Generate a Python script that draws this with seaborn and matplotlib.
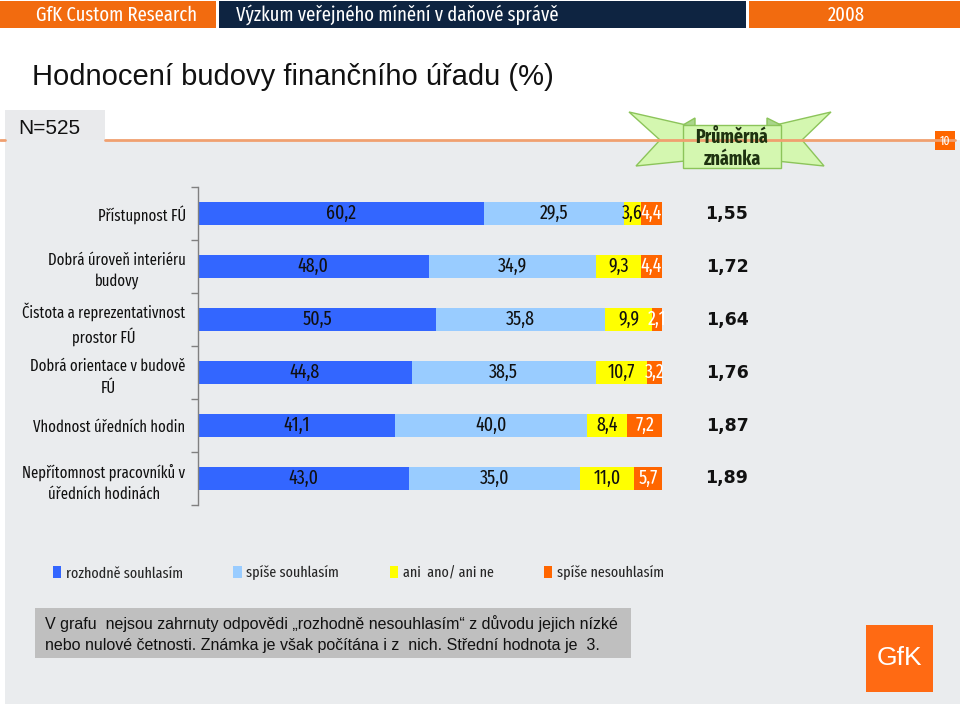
import numpy as np
import pandas as pd
import matplotlib.pyplot as plt
import seaborn as sns
from matplotlib.patches import Rectangle, Polygon, Patch

# === DATA ===
categories = ["Přístupnost FÚ",
              "Dobrá úroveň interiéru\nbudovy",
              "Čistota a reprezentativnost\nprostor FÚ",
              "Dobrá orientace v budově\nFÚ",
              "Vhodnost úředních hodin",
              "Nepřítomnost pracovníků v\núředních hodinách"]
rozhodne_souhlasim = [60.2, 48.0, 50.5, 44.8, 41.1, 43.0]
spise_souhlasim = [29.5, 34.9, 35.8, 38.5, 40.0, 35.0]
ani_ano_ani_ne = [3.6, 9.3, 9.9, 10.7, 8.4, 11.0]
spise_nesouhlasim = [4.4, 4.4, 2.1, 3.2, 7.2, 5.7]
prumerna_znamka = [1.55, 1.72, 1.64, 1.76, 1.87, 1.89]
series_names = ["rozhodně souhlasím", "spíše souhlasím", "ani  ano/ ani ne", "spíše nesouhlasím"]
colors = ["#3366FF", "#99CCFF", "#FFFF00", "#FF6600"]
label_colors = ["#101010", "#101010", "#101010", "white"]

sns.set_theme(style="white")
NARROW = ['Fira Sans Extra Condensed', 'Roboto Condensed', 'IBM Plex Sans Condensed', 'DejaVu Sans']
ARIAL = ['Liberation Sans', 'Arimo', 'DejaVu Sans']
plt.rcParams['font.family'] = NARROW

W, H = 960, 716
fig = plt.figure(figsize=(W / 100, H / 100), dpi=100)

# background canvas in pixel coordinates
bg = fig.add_axes([0, 0, 1, 1], zorder=0)
bg.set_xlim(0, W)
bg.set_ylim(H, 0)
bg.axis('off')

ORANGE = "#F26B0F"
NAVY = "#0E2441"
bg.add_patch(Rectangle((5, 140), 955, 564, color="#EAECEE", lw=0))
bg.add_patch(Rectangle((0, 1), 216, 27, color=ORANGE, lw=0))
bg.add_patch(Rectangle((219, 1), 527, 27, color=NAVY, lw=0))
bg.add_patch(Rectangle((749, 1), 211, 27, color=ORANGE, lw=0))
bg.text(116, 15, "GfK Custom Research", color="white", fontsize=14.5, ha="center", va="center")
bg.text(236, 15, "Výzkum veřejného mínění v daňové správě", color="white", fontsize=14.5, ha="left", va="center")
bg.text(846, 15, "2008", color="white", fontsize=14.5, ha="center", va="center")

bg.text(32, 77, "Hodnocení budovy finančního úřadu (%)", fontsize=21, family=ARIAL,
        ha="left", va="center", color="#111111")

# N=525 box and orange rule
bg.add_patch(Rectangle((5, 110), 100, 30, color="#E9EAEC", lw=0))
bg.plot([0, 5], [140, 140], color="#F0A070", lw=2)
bg.plot([105, 955], [140, 140], color="#F0A070", lw=2)
bg.text(18, 128, "N=525", fontsize=15, family=ARIAL, ha="left", va="center", color="#111111")
bg.add_patch(Rectangle((935, 131), 20, 19, color="#FF6600", lw=0))
bg.text(945, 141, "10", color="white", fontsize=9, ha="center", va="center")

# ribbon "Průměrná známka"
rib_fill, rib_edge = "#D4F7B0", "#8CC45A"
left_wing = [(629, 112), (695, 127), (695, 160), (636, 166), (660, 140)]
right_wing = [(831, 112), (767, 127), (767, 160), (824, 166), (802, 140)]
for pts in (left_wing, right_wing):
    bg.add_patch(Polygon(pts, closed=True, facecolor=rib_fill, edgecolor=rib_edge, lw=1))
bg.add_patch(Polygon([(683, 125), (695, 118), (695, 127)], closed=True, facecolor="#A9D58A", edgecolor=rib_edge, lw=1))
bg.add_patch(Polygon([(781, 125), (767, 118), (767, 127)], closed=True, facecolor="#A9D58A", edgecolor=rib_edge, lw=1))
bg.add_patch(Rectangle((683, 125), 98, 43, facecolor=rib_fill, edgecolor=rib_edge, lw=1))
bg.text(732, 148, "Průměrná\nznámka", fontsize=14, fontweight="bold", ha="center", va="center",
        color="#1E3210", linespacing=1.15)

# note box
bg.add_patch(Rectangle((35, 608), 596, 50, color="#BFBFBF", lw=0))
bg.text(45, 634, "V grafu  nejsou zahrnuty odpovědi „rozhodně nesouhlasím“ z důvodu jejich nízké\n"
        "nebo nulové četnosti. Známka je však počítána i z  nich. Střední hodnota je  3.",
        fontsize=11.5, family=ARIAL, ha="left", va="center", color="#111111", linespacing=1.45)

# GfK logo
bg.add_patch(Rectangle((866, 625), 67, 67, color="#FF6A13", lw=0))
bg.text(899.5, 658, "GfK", color="white", fontsize=19, family=ARIAL, ha="center", va="center")

# === CHART ===
ax = fig.add_axes([198 / W, 1 - 505 / H, (662 - 198) / W, (505 - 187) / H], zorder=1)
ax.patch.set_alpha(0)

df = pd.DataFrame({"kategorie": categories,
                   series_names[0]: rozhodne_souhlasim,
                   series_names[1]: spise_souhlasim,
                   series_names[2]: ani_ano_ani_ne,
                   series_names[3]: spise_nesouhlasim})
vals = df[series_names].to_numpy()
pct = vals / vals.sum(axis=1, keepdims=True) * 100
cum = np.cumsum(pct, axis=1)

# 100% stacked bars drawn as layered cumulative bars
for j in reversed(range(len(series_names))):
    sns.barplot(x=cum[:, j], y=df["kategorie"], color=colors[j], orient="h",
                width=0.42, ax=ax, saturation=1, linewidth=0)

for i in range(len(categories)):
    for j in range(len(series_names)):
        start = cum[i, j] - pct[i, j]
        ax.text(start + pct[i, j] / 2, i, f"{vals[i, j]:.1f}".replace(".", ","),
                ha="center", va="center", fontsize=14, color=label_colors[j])
    ax.text(114, i, f"{prumerna_znamka[i]:.2f}".replace(".", ","), ha="center", va="center",
            fontsize=12.5, fontweight="bold", family="DejaVu Sans", color="#111111", clip_on=False)

ax.set_xlim(0, 100)
ax.set_ylim(len(categories) - 0.5, -0.5)
ax.set_xlabel("")
ax.set_ylabel("")
ax.set_xticks([])
ax.set_yticks(range(len(categories)))
ax.set_yticklabels(categories, fontsize=11.5, color="#111111", multialignment="center", linespacing=1.45)
ax.set_yticks([k - 0.5 for k in range(len(categories) + 1)], minor=True)
ax.tick_params(axis="y", which="major", length=0, pad=9)
ax.tick_params(axis="y", which="minor", length=5, width=1, color="#808080", direction="out", left=True)
for s in ["top", "right", "bottom"]:
    ax.spines[s].set_visible(False)
ax.spines["left"].set_color("#808080")
ax.spines["left"].set_linewidth(1)

handles = [Patch(facecolor=c, edgecolor="none") for c in colors]
fig.legend(handles, series_names, ncol=4, loc="center left",
           bbox_to_anchor=(53 / W, 1 - 573 / H), frameon=False, fontsize=11,
           handlelength=0.55, handleheight=0.8, handletextpad=0.3, columnspacing=3.3,
           borderaxespad=0, borderpad=0)

fig.savefig("out.png", dpi=100)
